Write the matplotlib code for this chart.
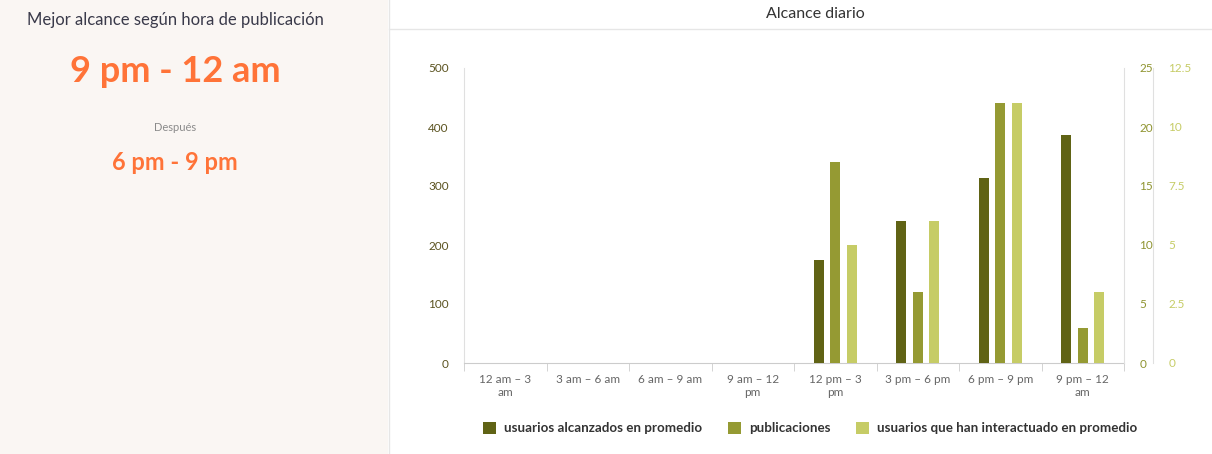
import matplotlib
matplotlib.use("Agg")
import matplotlib.pyplot as plt
from matplotlib.patches import Patch
from matplotlib.lines import Line2D
import numpy as np

plt.rcParams['font.family'] = ['Lato', 'DejaVu Sans']

categories = ["12 am – 3\nam", "3 am – 6 am", "6 am – 9 am", "9 am – 12\npm",
              "12 pm – 3\npm", "3 pm – 6 pm", "6 pm – 9 pm", "9 pm – 12\nam"]
usuarios_alcanzados = [0, 0, 0, 0, 174, 240, 313, 387]
publicaciones = [0, 0, 0, 0, 17, 6, 22, 3]
usuarios_interactuado = [0, 0, 0, 0, 5, 6, 11, 3]
series_names = ["usuarios alcanzados en promedio", "publicaciones",
                "usuarios que han interactuado en promedio"]
colors = ["#606315", "#959a33", "#c6cc66"]
left_ticks = [0, 100, 200, 300, 400, 500]
right1_ticks = [0, 5, 10, 15, 20, 25]
right2_ticks = [0, 2.5, 5, 7.5, 10, 12.5]
right2_labels = ["0", "2.5", "5", "7.5", "10", "12.5"]

W, H = 1212, 454
fig = plt.figure(figsize=(W / 100, H / 100), dpi=100)
fig.patch.set_facecolor("white")

def fx(px):
    return px / W

def fy(py):
    return 1 - py / H

# Left panel background
bg = fig.add_axes([0, 0, fx(388), 1])
bg.set_facecolor("#faf6f3")
bg.set_xticks([]); bg.set_yticks([])
for s in bg.spines.values():
    s.set_visible(False)
fig.add_artist(Line2D([fx(388.5), fx(388.5)], [0, 1], color="#e6e6e6", lw=1))
fig.add_artist(Line2D([fx(389), 1], [fy(28.5), fy(28.5)], color="#e6e6e6", lw=1))

fig.text(fx(175), fy(20), "Mejor alcance según hora de publicación", ha="center", va="center",
         fontsize=12, color="#3a3a4a")
fig.text(fx(175), fy(71), "9 pm - 12 am", ha="center", va="center", fontsize=26,
         fontweight="bold", color="#ff7338")
fig.text(fx(175), fy(127), "Después", ha="center", va="center", fontsize=8, color="#8a8a8a")
fig.text(fx(175), fy(163), "6 pm - 9 pm", ha="center", va="center", fontsize=17,
         fontweight="bold", color="#ff7338")

fig.text(fx(815), fy(14), "Alcance diario", ha="center", va="center", fontsize=11.5, color="#333333")

# Main chart
x0, x1, ytop, ybot = 464, 1124, 68, 363
ax = fig.add_axes([fx(x0), fy(ybot), fx(x1 - x0), (ybot - ytop) / H])
ax2 = ax.twinx()
ax3 = ax.twinx()

x = np.arange(len(categories))
bw = 0.12
off = 0.2
ax.bar(x - off, usuarios_alcanzados, bw, color=colors[0], zorder=3)
ax2.bar(x, publicaciones, bw, color=colors[1], zorder=3)
ax3.bar(x + off, usuarios_interactuado, bw, color=colors[2], zorder=3)

ax.set_xlim(-0.5, len(categories) - 0.5)
ax.set_ylim(0, 500)
ax2.set_ylim(0, 25)
ax3.set_ylim(0, 12.5)

for a in (ax, ax2, ax3):
    a.set_facecolor("none")
    for s in a.spines.values():
        s.set_visible(False)

ax.spines["left"].set_visible(True)
ax.spines["left"].set_color("#e0e0e0")
ax.spines["bottom"].set_visible(True)
ax.spines["bottom"].set_color("#cccccc")
ax2.spines["right"].set_visible(True)
ax2.spines["right"].set_color("#e0e0e0")
ax3.spines["right"].set_visible(True)
ax3.spines["right"].set_color("#e0e0e0")
ax3.spines["right"].set_position(("outward", 21))

ax.set_yticks(left_ticks)
ax.tick_params(axis="y", length=0, pad=11, labelsize=8.5, labelcolor="#5b5320")
ax2.set_yticks(right1_ticks)
ax2.tick_params(axis="y", length=0, pad=11, labelsize=8.5, labelcolor="#8f9430")
ax3.set_yticks(right2_ticks)
ax3.set_yticklabels(right2_labels)
ax3.tick_params(axis="y", length=0, pad=11, labelsize=8.5, labelcolor="#c6cc66")

ax.set_xticks(x)
ax.set_xticklabels(categories, fontsize=8.5, color="#666666", linespacing=1.25)
ax.tick_params(axis="x", which="major", length=0, pad=8)
ax.set_xticks(np.arange(-0.5, len(categories)), minor=True)
ax.tick_params(axis="x", which="minor", length=6, color="#cccccc", direction="out")

handles = [Patch(facecolor=c, edgecolor="none") for c in colors]
leg = fig.legend(handles, series_names, loc="center", bbox_to_anchor=(fx(810), fy(428)),
                 ncol=3, frameon=False, handlelength=1.0, handleheight=1.0,
                 handletextpad=0.6, columnspacing=1.9,
                 prop={"weight": "bold", "size": 9.6})
for t in leg.get_texts():
    t.set_color("#333333")

fig.savefig("out.png", dpi=100)
